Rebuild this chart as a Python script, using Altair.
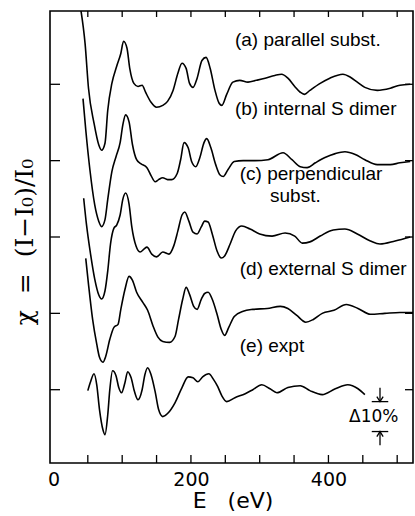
import altair as alt
import pandas as pd

# ---- data (E in eV, chi in %) ----
energy_a = [40,46,51,59,66,70,75,79,85,92,98,102,107,111,117,123,129,134,142,150,
            159,166,174,181,187,193,198,203,209,216,222,228,235,241,245,252,261,271,283,295,
            308,322,332,341,351,359,365,373,388,402,421,432,442,453,471,490,504,519]
chi_a = [24.2,13.4,-1.3,-12.7,-19.9,-21.6,-19.3,-8.5,0.3,5.9,10.1,14.1,11.8,5.2,0.3,-0.7,-0.3,-2.6,-5.9,-7.5,
         -6.9,-5.6,-2.0,3.6,6.9,5.2,0.3,-1.0,2.0,7.8,8.8,5.2,-2.0,-6.2,-6.9,-3.3,0.7,1.3,0.7,1.3,
         2.0,2.9,3.3,2.0,-0.7,-2.6,-3.3,-2.0,0.3,2.0,3.3,2.3,0.7,-1.0,-2.0,-1.3,-0.3,0.0]

energy_b = [43,47,53,60,66,70,75,79,85,91,97,101,105,110,115,121,127,136,142,148,
            153,159,166,172,180,185,190,196,201,207,213,219,223,229,236,242,247,254,263,276,
            293,312,334,347,359,369,381,395,410,424,439,453,471,490,504,519]
chi_b = [20.3,10.1,-2.9,-14.4,-19.9,-21.6,-19.3,-12.7,-3.6,1.3,5.9,11.8,15.0,12.7,5.2,0.3,-1.0,-2.3,-4.9,-6.9,
         -6.2,-5.6,-6.2,-6.2,-4.2,0.3,5.9,4.2,-0.3,-2.0,1.0,5.9,7.2,4.2,-1.3,-4.6,-5.2,-2.9,-0.3,0.0,
         0.0,0.3,2.6,0.3,-2.0,-2.3,-0.7,1.0,2.3,2.9,2.0,0.3,-1.3,-1.3,-0.7,-0.3]

energy_c = [44,48,54,60,66,70,75,79,83,88,92,97,101,105,110,114,120,126,132,136,
            143,150,159,168,175,181,187,191,197,203,209,215,220,225,231,238,244,249,257,265,
            274,286,300,318,337,351,362,373,388,407,424,442,461,475,497,519]
chi_c = [12.7,4.2,-5.6,-13.7,-19.0,-20.3,-17.6,-11.1,-2.3,2.9,3.9,7.2,12.4,14.4,10.8,3.3,-2.9,-4.9,-3.9,-3.3,
         -5.6,-6.5,-4.9,-5.6,-2.9,2.0,7.2,8.2,5.2,1.6,1.0,3.3,5.2,4.9,1.0,-4.6,-6.9,-6.2,-2.3,2.0,
         3.6,2.6,1.0,0.3,1.3,0.3,-2.0,-1.6,0.3,2.3,2.6,1.0,-1.3,-2.3,-1.3,0.0]

energy_d = [47,51,57,63,67,72,76,82,88,94,98,104,110,115,121,130,137,145,152,159,
            169,177,182,188,193,198,204,209,215,220,225,231,238,244,249,255,263,276,290,311,
            330,341,354,367,378,391,408,426,443,461,482,504,523]
chi_d = [18.0,9.5,-2.0,-10.1,-14.4,-16.0,-14.1,-8.5,-4.6,-3.6,1.3,7.8,12.1,10.8,6.9,3.6,1.0,-4.2,-7.8,-9.2,
         -9.5,-7.5,-2.0,4.6,8.5,6.2,2.3,1.3,4.6,6.5,6.9,4.6,-0.3,-5.2,-7.2,-4.6,-1.0,0.7,1.3,1.6,
         2.3,1.6,-0.7,-2.9,-2.0,0.0,1.0,2.9,1.6,-0.3,0.0,0.3,0.3]

energy_e = [50,54,59,63,67,72,75,79,82,86,91,95,99,104,108,113,118,123,129,133,
            137,142,148,153,159,166,177,187,196,203,210,217,226,233,239,245,252,264,279,290,
            303,315,325,341,359,373,391,410,428,443,453]
chi_e = [-0.3,2.6,5.2,1.6,-6.5,-13.1,-14.7,-8.2,0.0,6.2,4.6,0.7,-1.0,2.3,5.9,3.9,-0.7,-3.3,0.0,4.9,
         7.2,4.9,-0.7,-6.5,-8.8,-7.8,-4.2,0.7,4.2,3.9,2.6,4.2,5.2,3.3,1.0,-2.0,-3.9,-2.6,-1.3,0.0,
         1.6,0.3,-1.0,0.7,1.3,-0.3,-1.6,0.3,1.6,0.3,-1.6]

curve_names = ["a", "b", "c", "d", "e"]
curve_offsets = [100, 75, 50, 25, 0]

label_texts = ["(a) parallel subst.", "(b) internal S dimer", "(c) perpendicular", "subst.",
               "(d) external S dimer", "(e) expt"]
label_E = [264, 264, 271, 315, 271, 271]
label_chi = [112.7, 89.9, 68.6, 61.4, 37.6, 12.4]

x_ticks = [50, 100, 150, 200, 250, 300, 350, 400, 450, 500]
x_labels = [0, 200, 400]
y_ticks = [0, 25, 50, 75, 100]

scale_E = 475
scale_top = -3.9
scale_bottom = -13.7
scale_text = "Δ10%"

NB = "\u00a0"
y_title = "χ" + NB * 2 + "=" + NB * 2 + "(I−I₀)/I₀"
x_title = "E" + NB * 3 + "(eV)"

# ---- build tables ----
series = [(energy_a, chi_a), (energy_b, chi_b), (energy_c, chi_c), (energy_d, chi_d), (energy_e, chi_e)]
rows = []
for name, off, (es, cs) in zip(curve_names, curve_offsets, series):
    for i, (e, c) in enumerate(zip(es, cs)):
        rows.append({"curve": name, "E": e, "chi": c + off, "order": i})
df = pd.DataFrame(rows)

W, H = 363, 452
xs = alt.Scale(domain=[-5, 523], nice=False, zero=False)
ys = alt.Scale(domain=[-24, 124], nice=False, zero=False)
xaxis = alt.Axis(values=x_labels, ticks=False, domain=False, grid=False, title=None,
                 labelFont="DejaVu Sans", labelFontSize=19, labelColor="black",
                 labelPadding=7, labelFlush=False)

X = lambda f="E": alt.X(f"{f}:Q", scale=xs, axis=xaxis)
Y = lambda f="chi": alt.Y(f"{f}:Q", scale=ys, axis=None)

lines = alt.Chart(df).mark_line(color="black", strokeWidth=1.6, interpolate="monotone", clip=True).encode(
    x=X(), y=Y(), detail="curve:N", order="order:Q")

xt = pd.DataFrame({"E": x_ticks})
yt = pd.DataFrame({"chi": y_ticks})
bottom_ticks = alt.Chart(xt).mark_rule(color="black", strokeWidth=1.3).encode(
    x=X(), y=alt.value(H), y2=alt.value(H - 8))
top_ticks = alt.Chart(xt).mark_rule(color="black", strokeWidth=1.3).encode(
    x=X(), y=alt.value(0), y2=alt.value(6))
left_ticks = alt.Chart(yt).mark_rule(color="black", strokeWidth=1.3).encode(
    y=Y(), x=alt.value(0), x2=alt.value(10))
right_ticks = alt.Chart(yt).mark_rule(color="black", strokeWidth=1.3).encode(
    y=Y(), x=alt.value(W), x2=alt.value(W - 8))

labels = alt.Chart(pd.DataFrame({"E": label_E, "chi": label_chi, "t": label_texts})).mark_text(
    align="left", baseline="alphabetic", font="Liberation Sans", fontSize=19, color="black").encode(
    x=X(), y=Y(), text="t:N")

# scale bar
sb = pd.DataFrame({"E": [scale_E, scale_E], "y1": [scale_top + 4.5, scale_bottom - 4.5],
                   "y2": [scale_top, scale_bottom]})
shafts = alt.Chart(sb).mark_rule(color="black", strokeWidth=1.3).encode(x=X(), y=Y("y1"), y2="y2:Q")
bars = alt.Chart(pd.DataFrame({"E1": [scale_E - 12, scale_E - 12], "E2": [scale_E + 12, scale_E + 12],
                               "y": [scale_top, scale_bottom]})).mark_rule(color="black", strokeWidth=1.3).encode(
    x=X("E1"), x2="E2:Q", y=Y("y"))
heads = alt.Chart(pd.DataFrame({"E": [scale_E, scale_E], "y": [scale_top, scale_bottom],
                                "s": ["M -1 -1.6 L 0 0 L 1 -1.6", "M -1 1.6 L 0 0 L 1 1.6"]})).mark_point(
    filled=False, color="black", size=40, opacity=1, strokeWidth=1.3).encode(
    x=X(), y=Y("y"), shape=alt.Shape("s:N", scale=None))
sbtext = alt.Chart(pd.DataFrame({"E": [scale_E - 9], "y": [-10.5], "t": [scale_text]})).mark_text(
    font="DejaVu Sans", fontSize=17, baseline="alphabetic", align="center", color="black").encode(
    x=X(), y=Y("y"), text="t:N")

ytitle = alt.Chart(pd.DataFrame({"t": [y_title]})).mark_text(
    angle=270, font="DejaVu Serif", fontSize=25, color="black", baseline="middle", align="center").encode(
    text="t:N", x=alt.value(-25), y=alt.value(231))
xtitle = alt.Chart(pd.DataFrame({"t": [x_title]})).mark_text(
    font="DejaVu Sans", fontSize=22, color="black", baseline="alphabetic", align="center").encode(
    text="t:N", x=alt.value(183), y=alt.value(497))

chart = alt.layer(lines, bottom_ticks, top_ticks, left_ticks, right_ticks, labels,
                  shafts, bars, heads, sbtext, ytitle, xtitle).properties(
    width=W, height=H, autosize=alt.AutoSizeParams(type="none"),
    padding={"left": 50, "top": 11, "right": 2, "bottom": 53},
    background="white",
).configure_view(stroke="black", strokeWidth=1.6)

chart.save("out.html", embed_options={"renderer": "svg", "actions": False})
